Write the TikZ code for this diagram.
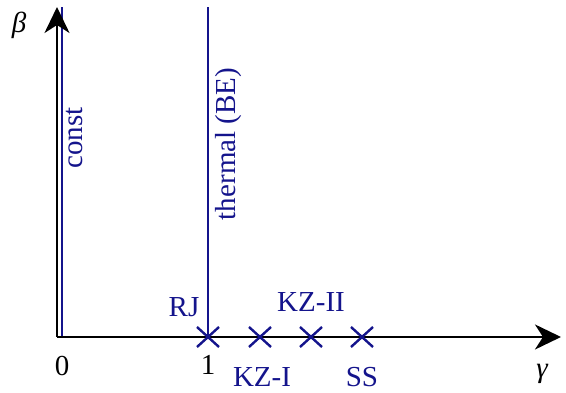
\documentclass[tikz,border=0pt]{standalone}
\usepackage{fontspec}
\setmainfont{Liberation Serif}
\usetikzlibrary{arrows.meta,calc}
\definecolor{navy}{RGB}{20,20,140}
\begin{document}
\begin{tikzpicture}[x=1pt,y=1pt,
  axis/.style={draw=black,line width=2.4pt,-{Stealth[length=26pt,width=25pt,inset=8pt]}},
  blueline/.style={draw=navy,line width=2.4pt},
  cross/.style={draw=navy,line width=2.4pt},
  lbl/.style={font=\fontsize{29}{31}\selectfont,text=navy,inner sep=0pt,anchor=base},
  blk/.style={font=\fontsize{29}{31}\selectfont,text=black,inner sep=0pt,anchor=base},
  rlbl/.style={font=\fontsize{29}{31}\selectfont,text=navy,inner sep=0pt,rotate=90,anchor=base}]
\useasboundingbox (0,0) rectangle (566,393);
% coordinates (y = 393 - pixel y)
\coordinate (O) at (57,56);
\coordinate (ytop) at (57,386);
\coordinate (xend) at (561,56);
\coordinate (cb) at (62,56);
\coordinate (ct) at (62,386);
\coordinate (tb) at (208,56);
\coordinate (tt) at (208,386);
% blue lines
\draw[blueline] (cb) -- (ct);
\draw[blueline] (tb) -- (tt);
% axes
\draw[axis] (O) -- (ytop);
\draw[axis] (O) -- (xend);
% crosses
\foreach \n/\x in {c1/208,c2/260,c3/311,c4/362}{
  \coordinate (\n) at (\x,56);
  \draw[cross] ($(\n)+(-11,-10)$) -- ($(\n)+(11,10)$);
  \draw[cross] ($(\n)+(-11,10)$) -- ($(\n)+(11,-10)$);
}
% labels
\node[blk] (beta) at (19,360) {\itshape β};
\node[blk] (gamma) at (542,15) {\itshape γ};
\node[blk] (zero) at (62,17) {0};
\node[blk] (one) at (208,18) {1};
\node[lbl] (rj) at (184,76) {RJ};
\node[lbl] (kz2) at (311,81) {KZ-II};
\node[lbl] (kz1) at (262,6) {KZ-I};
\node[lbl] (ss) at (362,6) {SS};
\node[rlbl] (const) at (82,255) {const};
\node[rlbl] (therm) at (235,249) {thermal (BE)};
\end{tikzpicture}
\end{document}
